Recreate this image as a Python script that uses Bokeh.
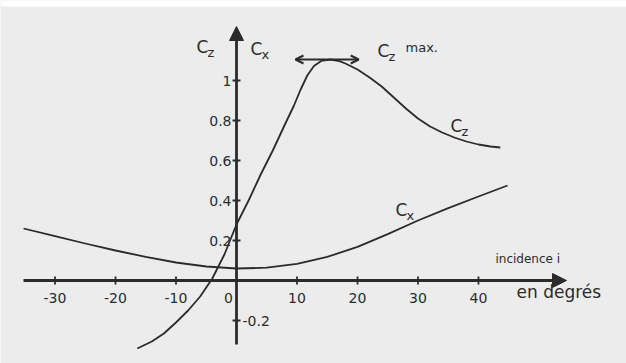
from bokeh.plotting import figure
from bokeh.models import Arrow, NormalHead, OpenHead, Range1d
from bokeh.core.properties import value
from bokeh.embed import file_html
from bokeh.resources import INLINE

# ---- data ----
cz_incidence = [-16.4, -14, -12, -10, -8, -6, -4, -2, 0, 2, 4, 6, 8, 9.5, 10.6, 11.7,
                12.8, 14, 15.5, 17, 18, 20, 22, 24, 26, 28, 30, 32, 34, 36, 38, 40, 42, 43.6]
cz_values = [-0.34, -0.305, -0.265, -0.21, -0.15, -0.08, 0.01, 0.13, 0.28, 0.40, 0.53, 0.65,
             0.78, 0.875, 0.955, 1.025, 1.072, 1.098, 1.105, 1.097, 1.085, 1.055, 1.015, 0.97,
             0.915, 0.86, 0.81, 0.77, 0.74, 0.715, 0.695, 0.68, 0.67, 0.665]

cx_incidence = [-35.2, -30, -25, -20, -15, -10, -5, 0, 5, 10, 15, 20, 25, 30, 35, 40, 44.8]
cx_values = [0.26, 0.222, 0.185, 0.15, 0.118, 0.09, 0.07, 0.06, 0.064, 0.083, 0.118, 0.168,
             0.232, 0.30, 0.362, 0.42, 0.475]

x_ticks = [-30, -20, -10, 10, 20, 30, 40]
x_tick_labels = ["-30", "-20", "-10", "10", "20", "30", "40"]
y_ticks_left = [0.2, 0.4, 0.6, 0.8, 1.0]
y_tick_labels_left = ["0.2", "0.4", "0.6", "0.8", "1"]
y_ticks_right = [-0.2]
y_tick_labels_right = ["-0.2"]
cz_max_span = [9.75, 20.2]
cz_max_value = 1.105

# ---- pixel mapping helpers (layout only) ----
X0, XS = 236.0, 6.05   # pixel of incidence 0, pixels per degree
Y0, YS = 280.0, 200.0  # pixel of coefficient 0, pixels per unit
def X(px):
    return (px - X0) / XS
def Y(py):
    return (Y0 - py) / YS

W, H = 626, 363
INK = "#2b2b2b"
FONT = "DejaVu Sans"

p = figure(width=W, height=H, output_backend="svg", toolbar_location=None,
           x_range=Range1d(X(0), X(W)), y_range=Range1d(Y(H), Y(0)),
           min_border=0, background_fill_color="#ececec", border_fill_color="#ececec")
p.axis.visible = False
p.grid.visible = False
p.outline_line_color = None

# white strip at top like the scan
p.quad(left=X(0), right=X(W), top=Y(0), bottom=Y(6), fill_color="white", line_color=None)

# axes
p.add_layout(Arrow(end=NormalHead(size=14, fill_color=INK, line_color=INK),
                   x_start=X(23), y_start=0, x_end=X(566), y_end=0,
                   line_color=INK, line_width=2.8))
p.add_layout(Arrow(end=NormalHead(size=14, fill_color=INK, line_color=INK),
                   x_start=0, y_start=Y(344), x_end=0, y_end=Y(26),
                   line_color=INK, line_width=2.8))

# tick marks
tk = 4.0
p.segment(x0=x_ticks, x1=x_ticks, y0=[Y(Y0 - tk)] * len(x_ticks), y1=[Y(Y0 + tk)] * len(x_ticks),
          line_color=INK, line_width=1.8)
yt = y_ticks_left + y_ticks_right
p.segment(x0=[X(X0 - tk)] * len(yt), x1=[X(X0 + tk)] * len(yt), y0=yt, y1=yt,
          line_color=INK, line_width=1.8)

# tick labels
p.text(x=x_ticks, y=[Y(297)] * len(x_ticks), text=x_tick_labels, text_align="center",
       text_baseline="middle", text_font=value(FONT), text_font_size="14px", text_color=INK)
p.text(x=[X(228)], y=[Y(297)], text=["0"], text_align="center", text_baseline="middle",
       text_font=value(FONT), text_font_size="14px", text_color=INK)
p.text(x=[X(231)] * len(y_ticks_left), y=y_ticks_left, text=y_tick_labels_left,
       text_align="right", text_baseline="middle", text_font=value(FONT),
       text_font_size="14px", text_color=INK)
p.text(x=[X(242)], y=y_ticks_right, text=y_tick_labels_right, text_align="left",
       text_baseline="middle", text_font=value(FONT), text_font_size="14px", text_color=INK)

# curves
p.line(cz_incidence, cz_values, line_color=INK, line_width=1.8, line_join="round")
p.line(cx_incidence, cx_values, line_color=INK, line_width=1.8, line_join="round")

# Cz max double arrow
p.add_layout(Arrow(start=OpenHead(size=8, line_color=INK, line_width=2),
                   end=OpenHead(size=8, line_color=INK, line_width=2),
                   x_start=cz_max_span[0], y_start=cz_max_value,
                   x_end=cz_max_span[1], y_end=cz_max_value,
                   line_color=INK, line_width=2))

def ctext(px, py, main, sub, size=17, subsize=13, dx=11, dy=6):
    p.text(x=[X(px)], y=[Y(py)], text=[main], text_align="left", text_baseline="middle",
           text_font=value(FONT), text_font_size=f"{size}px", text_color=INK)
    p.text(x=[X(px + dx)], y=[Y(py + dy)], text=[sub], text_align="left",
           text_baseline="middle", text_font=value(FONT), text_font_size=f"{subsize}px",
           text_color=INK)

ctext(196, 46, "C", "z")
ctext(250, 48, "C", "x")
ctext(377, 50, "C", "z")
p.text(x=[X(405)], y=[Y(47)], text=["max."], text_align="left", text_baseline="middle",
       text_font=value(FONT), text_font_size="13px", text_color=INK)
ctext(450, 125, "C", "z")
ctext(395, 209, "C", "x")

p.text(x=[X(495)], y=[Y(258)], text=["incidence i"], text_align="left", text_baseline="middle",
       text_font=value(FONT), text_font_size="12px", text_color=INK)
p.text(x=[X(516)], y=[Y(291)], text=["en degrés"], text_align="left", text_baseline="middle",
       text_font=value(FONT), text_font_size="17px", text_color=INK)

open("out.html", "w").write(file_html(p, INLINE))
